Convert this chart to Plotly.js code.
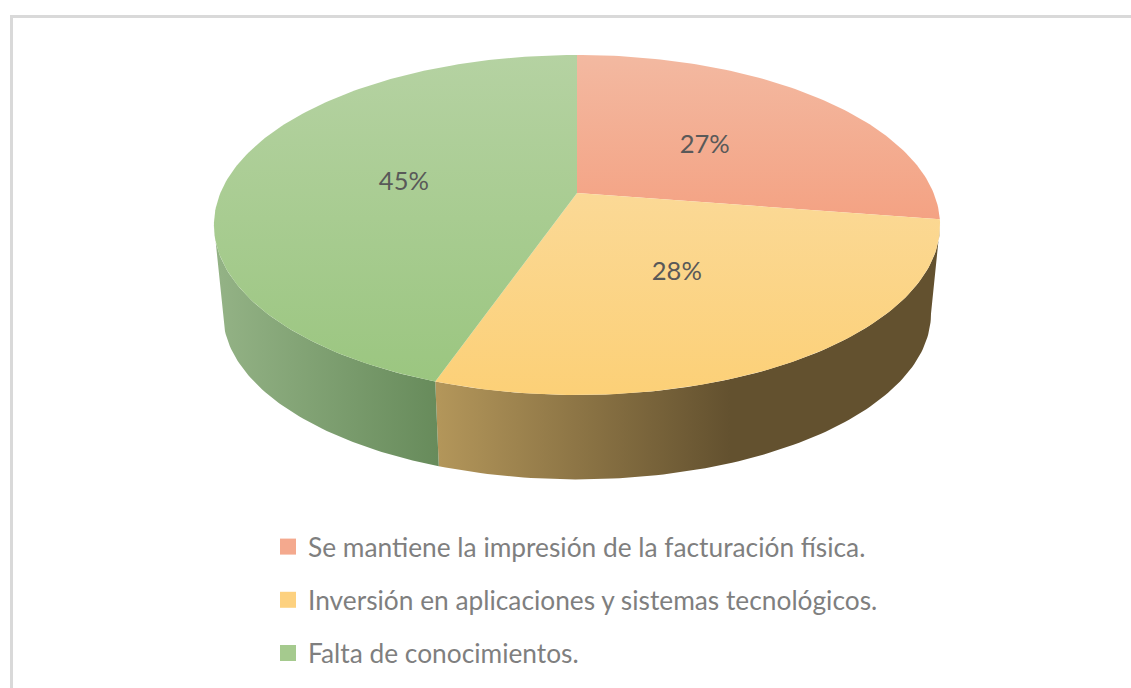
<!DOCTYPE html>
<html><head><meta charset="utf-8">
<script src="https://cdn.plot.ly/plotly-3.0.1.min.js"></script>
<style>html,body{margin:0;padding:0;background:#fff;overflow:hidden}#c{width:1131px;height:688px}</style>
</head><body><div id="c"></div>
<script>
const categories = ["Se mantiene la impresión de la facturación física.","Inversión en aplicaciones y sistemas tecnológicos.","Falta de conocimientos."];
const values = [27.49, 27.81, 44.7];
const swatchColors = ["#f4a98e","#fdd17f","#a5ca8e"];
const topGradients = [["#f3b9a1","#f4a283"],["#fbd996","#fcd077"],["#b5d2a2","#9bc680"]];
const sideGradients = [[null,null],["#b3965a","#63512f"],["#93b285","#678b5b"]];

// perspective disc geometry in page pixels
const apex = {x:577,y:193}, a = 164, b = 356.6, k = 0.188;
const baseApexY = 282.5, baseScale = 0.975, labelDrop = 4;
const widest = Math.acos(-k)*180/Math.PI;   // angle of left/right silhouette
function topPt(deg,r){const t=deg*Math.PI/180,u=r*Math.sin(t),v=r*Math.cos(t),d=1+k*v;
  return [apex.x+b*u/d, apex.y-a*v/d];}
function basePt(deg){const p=topPt(deg,1);
  return [apex.x+(p[0]-apex.x)*baseScale, baseApexY+(p[1]-apex.y)*baseScale];}
function arc(f,d0,d1){const out=[],n=Math.max(2,Math.ceil(Math.abs(d1-d0)));
  for(let i=0;i<=n;i++)out.push(f(d0+(d1-d0)*i/n));return out;}

const total = values.reduce((s,v)=>s+v,0);
let acc=0; const bounds=values.map(v=>{const s=acc;acc+=v;return [s/total*360,acc/total*360];});
const traces=[];

// side walls
bounds.forEach((bd,i)=>{
  const d0=Math.max(bd[0],widest), d1=Math.min(bd[1],360-widest);
  if(d1<=d0||!sideGradients[i][0])return;
  const pts=arc(p=>topPt(p,1),d0,d1).concat(arc(basePt,d1,d0));
  pts.push(pts[0]);
  const start=i===2?220:438, stop=i===2?438:730;
  traces.push({type:"scatter",mode:"lines",x:pts.map(p=>p[0]),y:pts.map(p=>p[1]),
    line:{width:0},fill:"toself",showlegend:false,hoverinfo:"skip",
    fillgradient:{type:"horizontal",start:start,stop:stop,
      colorscale:[[0,sideGradients[i][0]],[1,sideGradients[i][1]]]}});
});
// top faces
bounds.forEach((bd,i)=>{
  const pts=[[apex.x,apex.y]].concat(arc(p=>topPt(p,1),bd[0],bd[1]));
  pts.push(pts[0]);
  const ys=pts.map(p=>p[1]);
  traces.push({type:"scatter",mode:"lines",x:pts.map(p=>p[0]),y:ys,
    line:{width:0},fill:"toself",showlegend:false,hoverinfo:"skip",
    fillgradient:{type:"vertical",start:Math.min(...ys),stop:Math.max(...ys),
      colorscale:[[0,topGradients[i][0]],[1,topGradients[i][1]]]}});
});
// percentage labels
const lab=bounds.map(bd=>topPt((bd[0]+bd[1])/2,0.5));
traces.push({type:"scatter",mode:"text",x:lab.map(p=>p[0]),y:lab.map(p=>p[1]+labelDrop),
  text:values.map(v=>Math.round(v/total*100)+"%"),textposition:"middle center",
  textfont:{family:"Lato, 'Open Sans', sans-serif",size:25.5,color:"#595959"},
  showlegend:false,hoverinfo:"skip"});
// legend entries
categories.forEach((c,i)=>traces.push({type:"scatter",mode:"markers",x:[null],y:[null],name:c,
  legendgroup:"g"+i,marker:{symbol:"square",size:16,color:swatchColors[i]}}));

const layout={width:1131,height:688,margin:{l:0,r:0,t:0,b:0},paper_bgcolor:"#fff",plot_bgcolor:"#fff",
  xaxis:{range:[0,1131],visible:false,fixedrange:true},
  yaxis:{range:[688,0],visible:false,fixedrange:true},
  showlegend:true,
  legend:{x:268/1131,xanchor:"left",y:1-523/688,yanchor:"top",orientation:"v",
    font:{family:"Lato, sans-serif",size:26.3,color:"#7f7f7f"},tracegroupgap:16,bgcolor:"rgba(0,0,0,0)"},
  shapes:[{type:"rect",xref:"x",yref:"y",x0:11.5,y0:16.5,x1:1200,y1:800,line:{color:"#d9d9d9",width:3},layer:"below"}]
};
Plotly.newPlot("c",traces,layout,{displayModeBar:false,staticPlot:true});
</script></body></html>
